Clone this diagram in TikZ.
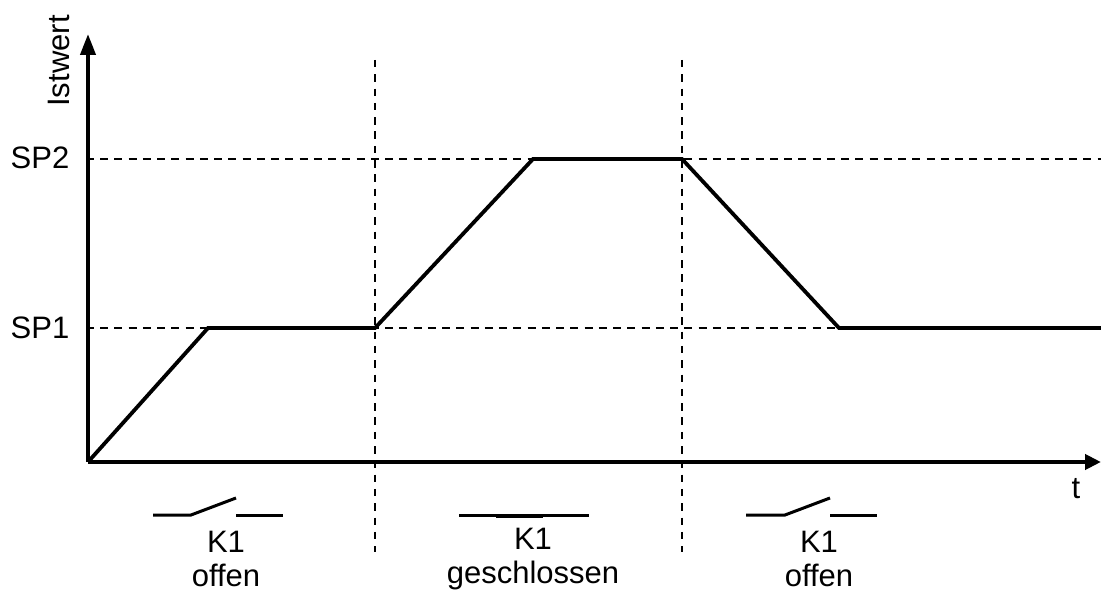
\documentclass[tikz,border=0pt]{standalone}
\usepackage{fontspec}
\setmainfont{Liberation Sans}
\usetikzlibrary{arrows.meta}
\tikzset{
  lbl/.style={inner sep=0pt,font=\fontsize{31}{34}\selectfont,align=center},
  yaxisline/.style={line width=4pt,-{Triangle[length=21pt,width=15pt]}},
  xaxisline/.style={line width=4pt,-{Triangle[length=16pt,width=15pt]}},
  curve/.style={line width=3.8pt,line join=miter},
  hguide/.style={line width=2pt,dash pattern=on 8pt off 6.25pt,dash phase=4.25pt},
  vguide/.style={line width=2pt,dash pattern=on 7.5pt off 6.8pt},
  sw/.style={line width=3pt}
}
\begin{document}
\begin{tikzpicture}[x=1pt,y=-1pt]
\useasboundingbox (0,0) rectangle (1101,593);
\coordinate (O) at (88,462);
\coordinate (Ytop) at (88,34);
\coordinate (Xend) at (1101,462);
\coordinate (A) at (208,328);
\coordinate (B) at (375,328);
\coordinate (C) at (533,159);
\coordinate (D) at (682,159);
\coordinate (E) at (839,328);
\coordinate (F) at (1101,328);
\coordinate (S1) at (90,328);
\coordinate (S2) at (90,159);
\coordinate (V1a) at (375,60);
\coordinate (V1b) at (375,552);
\coordinate (V2a) at (682,60);
\coordinate (V2b) at (682,552);
% guides
\draw[hguide] (S2) -- (F |- S2);
\draw[hguide] (S1) -- (F);
\draw[vguide] (V1a) -- (V1b);
\draw[vguide] (V2a) -- (V2b);
% axes
\draw[yaxisline] (O) -- (Ytop);
\draw[xaxisline] (O) -- (Xend);
% curve
\draw[curve] (O) -- (A) -- (B) -- (C) -- (D) -- (E) -- (F);
% labels
\node[lbl,rotate=90] (ist) at (59,61) {Istwert};
\node[lbl] (sp2) at (40,158) {SP2};
\node[lbl] (sp1) at (40,328) {SP1};
\node[lbl] (t) at (1076,489) {t};
\node[lbl] (k1) at (226,559) {K1\\offen};
\node[lbl] (k2) at (533,559) {K1\\geschlossen};
\node[lbl] (k3) at (819,559) {K1\\offen};
% switches
\coordinate (a1) at (153,515); \coordinate (a2) at (191,515); \coordinate (a3) at (236,498);
\coordinate (a4) at (236,515); \coordinate (a5) at (283,515);
\draw[sw] (a1) -- (a2) -- (a3);
\draw[sw] (a4) -- (a5);
\coordinate (b1) at (459,515); \coordinate (b2) at (589,515);
\coordinate (b3) at (496,516); \coordinate (b4) at (543,516);
\draw[sw] (b1) -- (b2);
\draw[sw] (b3) -- (b4);
\coordinate (c1) at (746,515); \coordinate (c2) at (785,515); \coordinate (c3) at (830,498);
\coordinate (c4) at (830,515); \coordinate (c5) at (877,515);
\draw[sw] (c1) -- (c2) -- (c3);
\draw[sw] (c4) -- (c5);
\end{tikzpicture}
\end{document}
